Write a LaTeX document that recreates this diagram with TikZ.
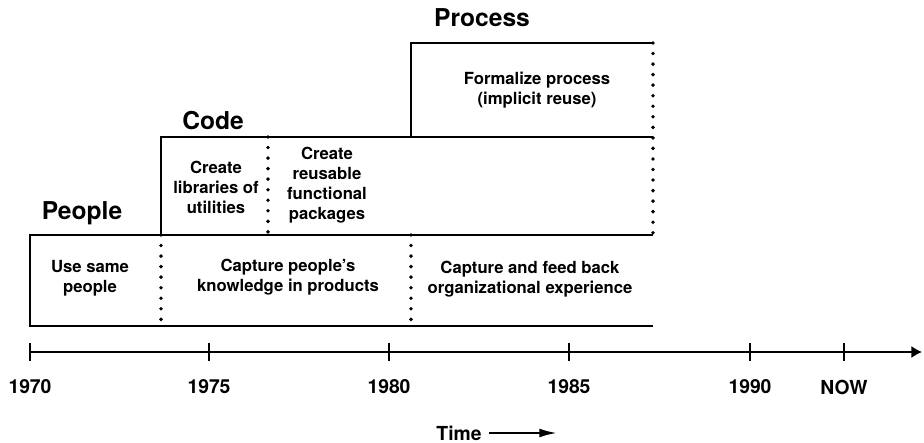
\documentclass[tikz,border=0pt]{standalone}
\usepackage{fontspec}
\setmainfont{TeX Gyre Heros}
\usetikzlibrary{arrows.meta}

\begin{document}
\begin{tikzpicture}[
    x=0.02cm, y=-0.02cm,
    boxLine/.style={line width=1.2pt},
    dotLine/.style={line width=2.2pt, line cap=round, dash pattern=on 0pt off 6pt},
    heading/.style={font=\bfseries\fontsize{14}{16}\selectfont},
    cell/.style={font=\bfseries\fontsize{9.5}{11.4}\selectfont, align=center},
    yearLabel/.style={font=\bfseries\fontsize{11}{13}\selectfont},
    every node/.style={inner sep=0pt}
    ]
    \useasboundingbox (0,0) rectangle (924,443);

    % bands
    \draw[boxLine] (653,235) -- (30,235) -- (30,326) -- (653,326);
    \draw[boxLine] (161,235) -- (161,137) -- (653,137);
    \draw[boxLine] (411,137) -- (411,43) -- (653,43);

    % dotted borders
    \draw[dotLine] (653,43) -- (653,235);
    \draw[dotLine] (161,235) -- (161,326);
    \draw[dotLine] (411,235) -- (411,326);
    \draw[dotLine] (268,137) -- (268,235);

    % headings
    \node[heading] (people) at (82,213) {People};
    \node[heading] (code) at (213,121) {Code};
    \node[heading] (process) at (482,18) {Process};

    % cells
    \node[cell] (useSame) at (90,278) {Use same\\people};
    \node[cell] (capturePeople) at (288,277) {Capture people's\\knowledge in products};
    \node[cell] (captureFeed) at (530,279) {Capture and feed back\\organizational experience};
    \node[cell] (createLib) at (216,187) {Create\\libraries of\\utilities};
    \node[cell] (createPkg) at (327,185) {Create\\reusable\\functional\\packages};
    \node[cell] (formalize) at (537,90) {Formalize process\\(implicit reuse)};

    % time axis
    \coordinate (axisStart) at (30,352);
    \coordinate (axisEnd) at (922,352);
    \draw[boxLine, -{Latex[length=6pt, width=7pt]}] (axisStart) -- (axisEnd);
    \foreach \x/\yr in {30/1970, 209/1975, 389/1980, 569/1985, 750/1990, 844/NOW}{
        \draw[boxLine] (\x,343) -- (\x,361);
        \node[yearLabel] (year\yr) at (\x,387) {\yr};
    }

    \node[yearLabel] (time) at (459,433) {Time};
    \coordinate (timeEnd) at (557,433);
    \draw[boxLine, -{Latex[length=10pt, width=5pt]}] ([xshift=4pt]time.east) -- (timeEnd);
\end{tikzpicture}
\end{document}
